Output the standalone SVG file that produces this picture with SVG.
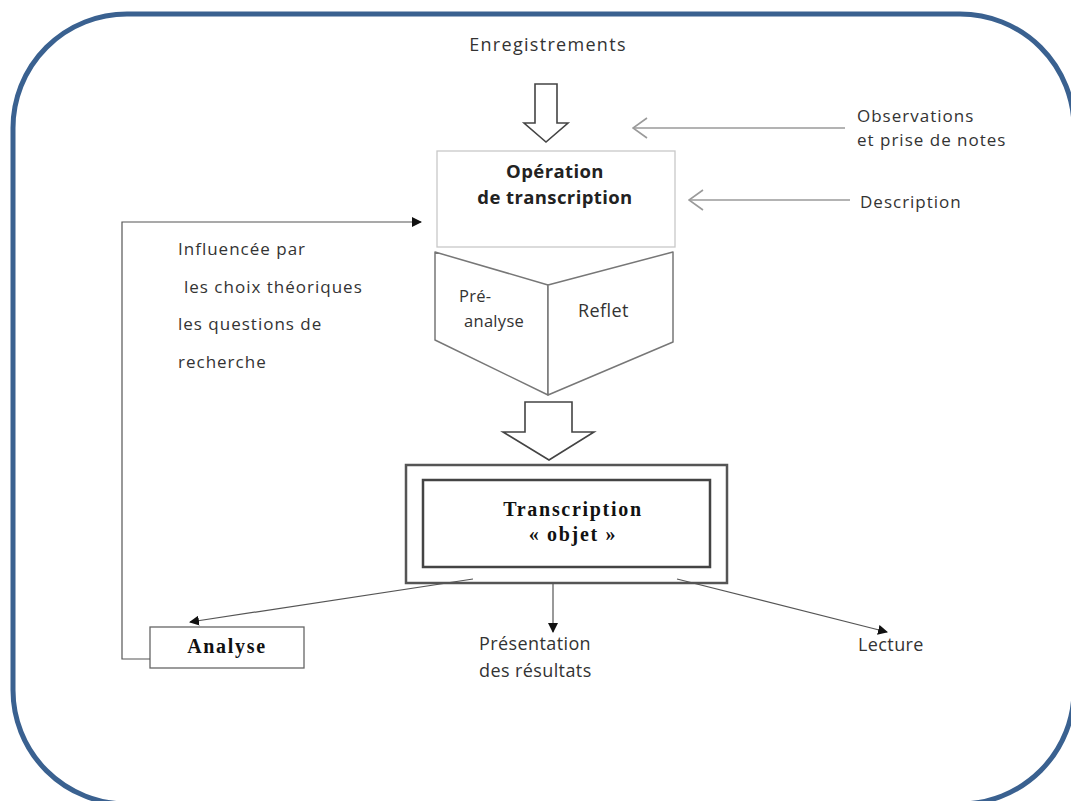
<svg xmlns="http://www.w3.org/2000/svg" width="1071" height="801" viewBox="0 0 1071 801">
  <defs>
    <marker id="tri" viewBox="0 0 10 10" refX="9" refY="5" markerWidth="10" markerHeight="10" markerUnits="userSpaceOnUse" orient="auto">
      <path d="M0,0 L10,5 L0,10 z" fill="#111"/>
    </marker>
    <marker id="chev" viewBox="0 0 16 22" refX="15" refY="11" markerWidth="16" markerHeight="22" markerUnits="userSpaceOnUse" orient="auto">
      <path d="M1,1 L15,11 L1,21" fill="none" stroke="#9a9a9a" stroke-width="1.6"/>
    </marker>
  </defs>
  <style>
    .sans { font-family: "Open Sans", "Noto Sans", sans-serif; fill: #333; font-size: 18px; letter-spacing: 0.4px; }
    .small { font-size: 17px; letter-spacing: 1px; }
    .wide { letter-spacing: 1.3px; }
    .label { font-size: 16.5px; letter-spacing: 0.3px; }
    .sansb { font-family: "Open Sans", "Noto Sans", sans-serif; fill: #222; font-size: 18.5px; font-weight: bold; letter-spacing: 0.4px; }
    .serifb { font-family: "Liberation Serif", serif; fill: #111; font-weight: bold; font-size: 20px; letter-spacing: 1.7px; }
    .thin { fill: none; stroke: #555; stroke-width: 1.2; }
    .hollow { fill: #fff; stroke: #444; stroke-width: 1.6; stroke-linejoin: miter; }
  </style>

  <rect width="1071" height="801" fill="#fff"/>
  <!-- outer rounded frame, running past the right and bottom edges -->
  <rect id="frame" x="13" y="14" width="1061" height="790" rx="114" ry="114" fill="none" stroke="#3a6190" stroke-width="5"/>

  <g id="enregistrements">
    <text class="sans wide" x="548" y="51" text-anchor="middle">Enregistrements</text>
    <path class="hollow" d="M535,84 H557 V123 H568 L546,142 L524,123 H535 Z"/>
  </g>

  <g id="observations">
    <text class="sans small" x="857" y="122">Observations</text>
    <text class="sans small" x="857" y="146">et prise de notes</text>
  </g>

  <g id="description">
    <text class="sans small" x="860" y="208">Description</text>
  </g>

  <g id="operation">
    <rect x="437" y="151" width="238" height="96" fill="#fff" stroke="#c8c8c8" stroke-width="1.3"/>
    <text class="sansb" x="555" y="178" text-anchor="middle">Opération</text>
    <text class="sansb" x="555" y="204" text-anchor="middle">de transcription</text>
  </g>

  <g id="prisme">
    <path d="M435,252 L548,285 L548,395 L435,340 Z" fill="#fff" stroke="#777" stroke-width="1.5" stroke-linejoin="round"/>
    <path d="M548,285 L673,252 L673,342 L548,395 Z" fill="#fff" stroke="#777" stroke-width="1.5" stroke-linejoin="round"/>
    <text class="sans label" x="459" y="302">Pré-</text>
    <text class="sans label" x="464" y="327">analyse</text>
    <text class="sans" x="578" y="317">Reflet</text>
  </g>

  <g id="fleche-transcription">
    <path class="hollow" d="M525,402 H572 V432 H594 L549,460 L503,432 H525 Z"/>
  </g>

  <g id="transcription-objet">
    <rect x="406" y="465" width="321" height="118" fill="#fff" stroke="#555" stroke-width="2.5"/>
    <rect x="423" y="480" width="287" height="87" fill="#fff" stroke="#444" stroke-width="2.5"/>
    <text class="serifb" x="573" y="516" text-anchor="middle">Transcription</text>
    <text class="serifb" x="573" y="541" text-anchor="middle">« objet »</text>
  </g>

  <g id="analyse">
    <rect x="150" y="627" width="154" height="41" fill="#fff" stroke="#666" stroke-width="1.3"/>
    <text class="serifb" x="227" y="653" text-anchor="middle">Analyse</text>
  </g>

  <g id="influences">
    <text class="sans small" x="178" y="255">Influencée par</text>
    <text class="sans small" x="184" y="293">les choix théoriques</text>
    <text class="sans small" x="178" y="330">les questions de</text>
    <text class="sans small" x="178" y="368">recherche</text>
  </g>

  <g id="presentation">
    <text class="sans" x="479" y="650">Présentation</text>
    <text class="sans" x="479" y="677">des résultats</text>
  </g>

  <g id="lecture">
    <text class="sans" x="858" y="651">Lecture</text>
  </g>

  <g id="connectors">
    <line x1="845" y1="128" x2="633" y2="128" stroke="#9a9a9a" stroke-width="1.6" marker-end="url(#chev)"/>
    <line x1="850" y1="200" x2="689" y2="200" stroke="#9a9a9a" stroke-width="1.6" marker-end="url(#chev)"/>
    <polyline class="thin" points="150,659 122,659 122,222 421,222" marker-end="url(#tri)"/>
    <line class="thin" x1="473" y1="579" x2="190" y2="622" marker-end="url(#tri)"/>
    <line class="thin" x1="553" y1="583" x2="553" y2="632" marker-end="url(#tri)"/>
    <line class="thin" x1="677" y1="579" x2="887" y2="632" marker-end="url(#tri)"/>
  </g>
</svg>
